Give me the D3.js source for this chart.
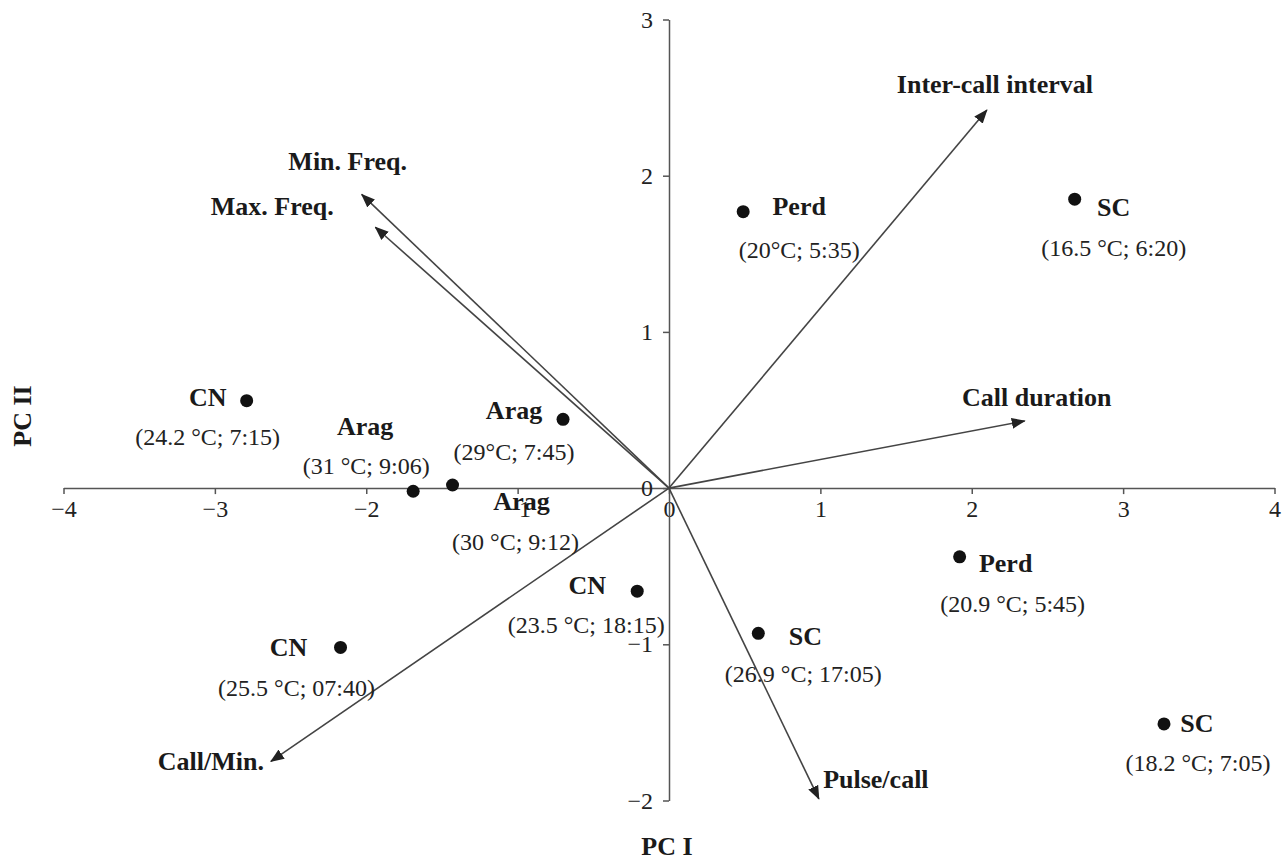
<!DOCTYPE html>
<html>
<head>
<meta charset="utf-8">
<script src="https://cdn.jsdelivr.net/npm/d3@7"></script>
<style>
  html, body { margin: 0; padding: 0; background: #fff; }
  svg { display: block; }
</style>
</head>
<body>
<div id="chart"></div>
<script>
// ---- Data: PCA scores (sites) ----
const sites = ["Perd", "SC", "CN", "Arag", "Arag", "Arag", "CN", "CN", "SC", "Perd", "SC"];
const conditions = ["(20°C; 5:35)", "(16.5 °C; 6:20)", "(24.2 °C; 7:15)", "(29°C; 7:45)",
  "(31 °C; 9:06)", "(30 °C; 9:12)", "(23.5 °C; 18:15)", "(25.5 °C; 07:40)",
  "(26.9 °C; 17:05)", "(20.9 °C; 5:45)", "(18.2 °C; 7:05)"];
const pc1Scores = [0.49, 2.68, -2.79, -0.70, -1.69, -1.43, -0.21, -2.17, 0.59, 1.92, 3.27];
const pc2Scores = [1.77, 1.85, 0.56, 0.44, -0.02, 0.02, -0.66, -1.02, -0.93, -0.44, -1.51];

// ---- Data: variable loadings (arrows) ----
const variables = ["Inter-call interval", "Call duration", "Min. Freq.", "Max. Freq.", "Call/Min.", "Pulse/call"];
const pc1Loadings = [2.10, 2.35, -2.03, -1.94, -2.63, 0.99];
const pc2Loadings = [2.42, 0.43, 1.88, 1.67, -1.75, -1.99];

// ---- Axis ticks ----
const xTicks = [-4, -3, -2, -1, 0, 1, 2, 3, 4];
const yTicks = [-2, -1, 0, 1, 2, 3];

// ---- Label layout offsets (pixels, layout only) ----
const siteNameOffsets = [[56,-5],[39,8],[-39,-3],[-49,-9],[-48,-65],[69,17],[-50,-6],[-52,0],[47,3],[46,7],[33,0]];
const siteCondOffsets = [[56,38],[39,49],[-39,36],[-49,33],[-47,-25],[63,57],[-51,34],[-44,41],[45,41],[53,47],[34,39]];
const varLabelOffsets = [[8,-26],[12,-23],[-14,-33],[-103,-21],[-60,0],[57,-19]];

const FONT = "Liberation Serif, Times New Roman, Times, serif";
const W = 1286, H = 859;
const svg = d3.select("#chart").append("svg").attr("width", W).attr("height", H)
  .attr("font-family", FONT);

const x = d3.scaleLinear().domain([-4, 4]).range([63.5, 1274.5]);
const y = d3.scaleLinear().domain([-2, 3]).range([800.5, 19.5]);

const axisColor = "#555";
const fontSize = 24;

// X axis
const gx = svg.append("g").attr("transform", `translate(0,${y(0)})`)
  .call(d3.axisBottom(x).tickValues(xTicks).tickSize(6).tickSizeOuter(0).tickPadding(6)
    .tickFormat(d3.format("d")));
gx.attr("font-family", FONT).attr("font-size", fontSize);
gx.select(".domain").attr("stroke", axisColor).attr("stroke-width", 1.5);
gx.selectAll(".tick line").attr("stroke", axisColor).attr("stroke-width", 1.5);
gx.selectAll(".tick text").attr("font-family", FONT).attr("font-size", fontSize).attr("fill", "#222");

// Y axis
const gy = svg.append("g").attr("transform", `translate(${x(0)},0)`)
  .call(d3.axisLeft(y).tickValues(yTicks).tickSize(6).tickSizeOuter(0).tickPadding(10)
    .tickFormat(d3.format("d")));
gy.attr("font-family", FONT).attr("font-size", fontSize);
gy.select(".domain").attr("stroke", axisColor).attr("stroke-width", 1.5);
gy.selectAll(".tick line").attr("stroke", axisColor).attr("stroke-width", 1.5);
gy.selectAll(".tick text").attr("font-family", FONT).attr("font-size", fontSize).attr("fill", "#222");

// Arrow marker
svg.append("defs").append("marker")
  .attr("id", "arrow").attr("viewBox", "0 -6 14 12")
  .attr("refX", 13).attr("refY", 0)
  .attr("markerWidth", 14).attr("markerHeight", 12)
  .attr("markerUnits", "userSpaceOnUse")
  .attr("orient", "auto")
  .append("path").attr("d", "M0,-5.5L14,0L0,5.5Z").attr("fill", "#222");

const varData = variables.map((v, i) => ({ name: v, px: pc1Loadings[i], py: pc2Loadings[i], off: varLabelOffsets[i] }));

svg.append("g").selectAll("line").data(varData).join("line")
  .attr("x1", x(0)).attr("y1", y(0))
  .attr("x2", d => x(d.px)).attr("y2", d => y(d.py))
  .attr("stroke", "#444").attr("stroke-width", 1.6)
  .attr("marker-end", "url(#arrow)");

svg.append("g").selectAll("text").data(varData).join("text")
  .attr("x", d => x(d.px) + d.off[0]).attr("y", d => y(d.py) + d.off[1])
  .attr("text-anchor", "middle").attr("dominant-baseline", "central")
  .attr("font-family", FONT)
  .attr("font-size", 26).attr("font-weight", "bold").attr("fill", "#1a1a1a")
  .text(d => d.name);

// Site points
const siteData = sites.map((s, i) => ({
  name: s, cond: conditions[i], px: pc1Scores[i], py: pc2Scores[i],
  nOff: siteNameOffsets[i], cOff: siteCondOffsets[i]
}));

svg.append("g").selectAll("circle").data(siteData).join("circle")
  .attr("cx", d => x(d.px)).attr("cy", d => y(d.py)).attr("r", 6.5)
  .attr("fill", "#111");

svg.append("g").selectAll("text").data(siteData).join("text")
  .attr("x", d => x(d.px) + d.nOff[0]).attr("y", d => y(d.py) + d.nOff[1])
  .attr("text-anchor", "middle").attr("dominant-baseline", "central")
  .attr("font-family", FONT)
  .attr("font-size", 26).attr("font-weight", "bold").attr("fill", "#1a1a1a")
  .text(d => d.name);

svg.append("g").selectAll("text").data(siteData).join("text")
  .attr("x", d => x(d.px) + d.cOff[0]).attr("y", d => y(d.py) + d.cOff[1])
  .attr("text-anchor", "middle").attr("dominant-baseline", "central")
  .attr("font-family", FONT)
  .attr("font-size", fontSize).attr("fill", "#222")
  .text(d => d.cond);

// Axis titles
svg.append("text").attr("x", 667).attr("y", 846)
  .attr("text-anchor", "middle").attr("dominant-baseline", "central")
  .attr("font-family", FONT)
  .attr("font-size", 26).attr("font-weight", "bold").attr("fill", "#1a1a1a")
  .text("PC I");

svg.append("text").attr("transform", "translate(22,416) rotate(-90)")
  .attr("text-anchor", "middle").attr("dominant-baseline", "central")
  .attr("font-family", FONT)
  .attr("font-size", 26).attr("font-weight", "bold").attr("fill", "#1a1a1a")
  .text("PC II");
</script>
</body>
</html>
